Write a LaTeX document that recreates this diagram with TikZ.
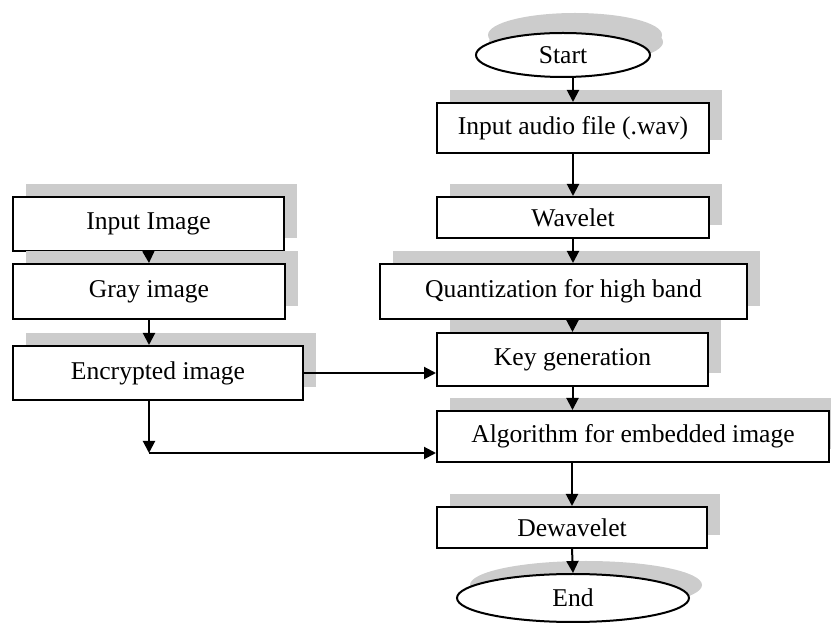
\documentclass[tikz,border=0pt]{standalone}
\usepackage{fontspec}
\setmainfont{Liberation Serif}
\usetikzlibrary{shapes.geometric,shadows,arrows.meta}

\tikzset{
	box/.style={draw=black, line width=1pt, fill=white, inner sep=0pt,
		font=\fontsize{12.8}{15}\selectfont,
		drop shadow={shadow xshift=6.5pt, shadow yshift=6.5pt, fill=gray!40, opacity=1}},
	term/.style={box, ellipse},
	arr/.style={line width=1pt, -{Triangle[length=6pt,width=6pt]}}
}

\begin{document}
\begin{tikzpicture}[x=0.5pt,y=-0.5pt]
	
	\useasboundingbox (0,0) rectangle (831,625);
	
	% Audio column
	\node[term, minimum width=87pt, minimum height=22pt,
		drop shadow={shadow xshift=6pt, shadow yshift=10pt, fill=gray!40, opacity=1}] (start) at (563,55) {Start};
	\node[box, minimum width=136pt, minimum height=25pt] (audio) at (573,128) {Input audio file (.wav)};
	\node[box, minimum width=136pt, minimum height=20.5pt] (wave) at (573,217.5) {Wavelet};
	\node[box, minimum width=183.5pt, minimum height=27.5pt] (quant) at (563.5,291.5) {Quantization for high band};
	\node[box, minimum width=135.5pt, minimum height=26.5pt] (key) at (572.5,359.5) {Key generation};
	\node[box, minimum width=196pt, minimum height=25.5pt] (algo) at (633,436.5) {Algorithm for embedded image};
	\node[box, minimum width=135pt, minimum height=20.5pt] (dewave) at (572,527.5) {Dewavelet};
	\node[term, minimum width=116pt, minimum height=24pt] (fin) at (573,598) {End};
	
	% Image column
	\node[box, minimum width=135.5pt, minimum height=27pt] (inimg) at (148.5,224) {Input Image};
	\node[box, minimum width=136pt, minimum height=27.5pt] (gray) at (149,291.5) {Gray image};
	\node[box, minimum width=145pt, minimum height=27pt] (enc) at (158,373) {Encrypted image};
	
	\coordinate (j) at (149,453);
	
	% Connectors
	\draw[arr] (start.south -| audio.north) -- (audio.north);
	\draw[arr] (audio.south) -- (wave.north);
	\draw[arr] (wave.south) -- (wave.south |- quant.north);
	\draw[arr] (key.north |- quant.south) -- (key.north);
	\draw[arr] (key.south) -- (key.south |- algo.north);
	\draw[arr] (dewave.north |- algo.south) -- (dewave.north);
	\draw[arr] (dewave.south) -- (fin.north);
	
	\draw[arr] (inimg.south) -- (gray.north);
	\draw[arr] (gray.south) -- (gray.south |- enc.north);
	\draw[arr] (enc.east) -- (enc.east -| key.west);
	\draw[arr] (enc.south -| j) -- (j);
	\draw[arr] (j) -- (j -| algo.west);
	
\end{tikzpicture}
\end{document}
